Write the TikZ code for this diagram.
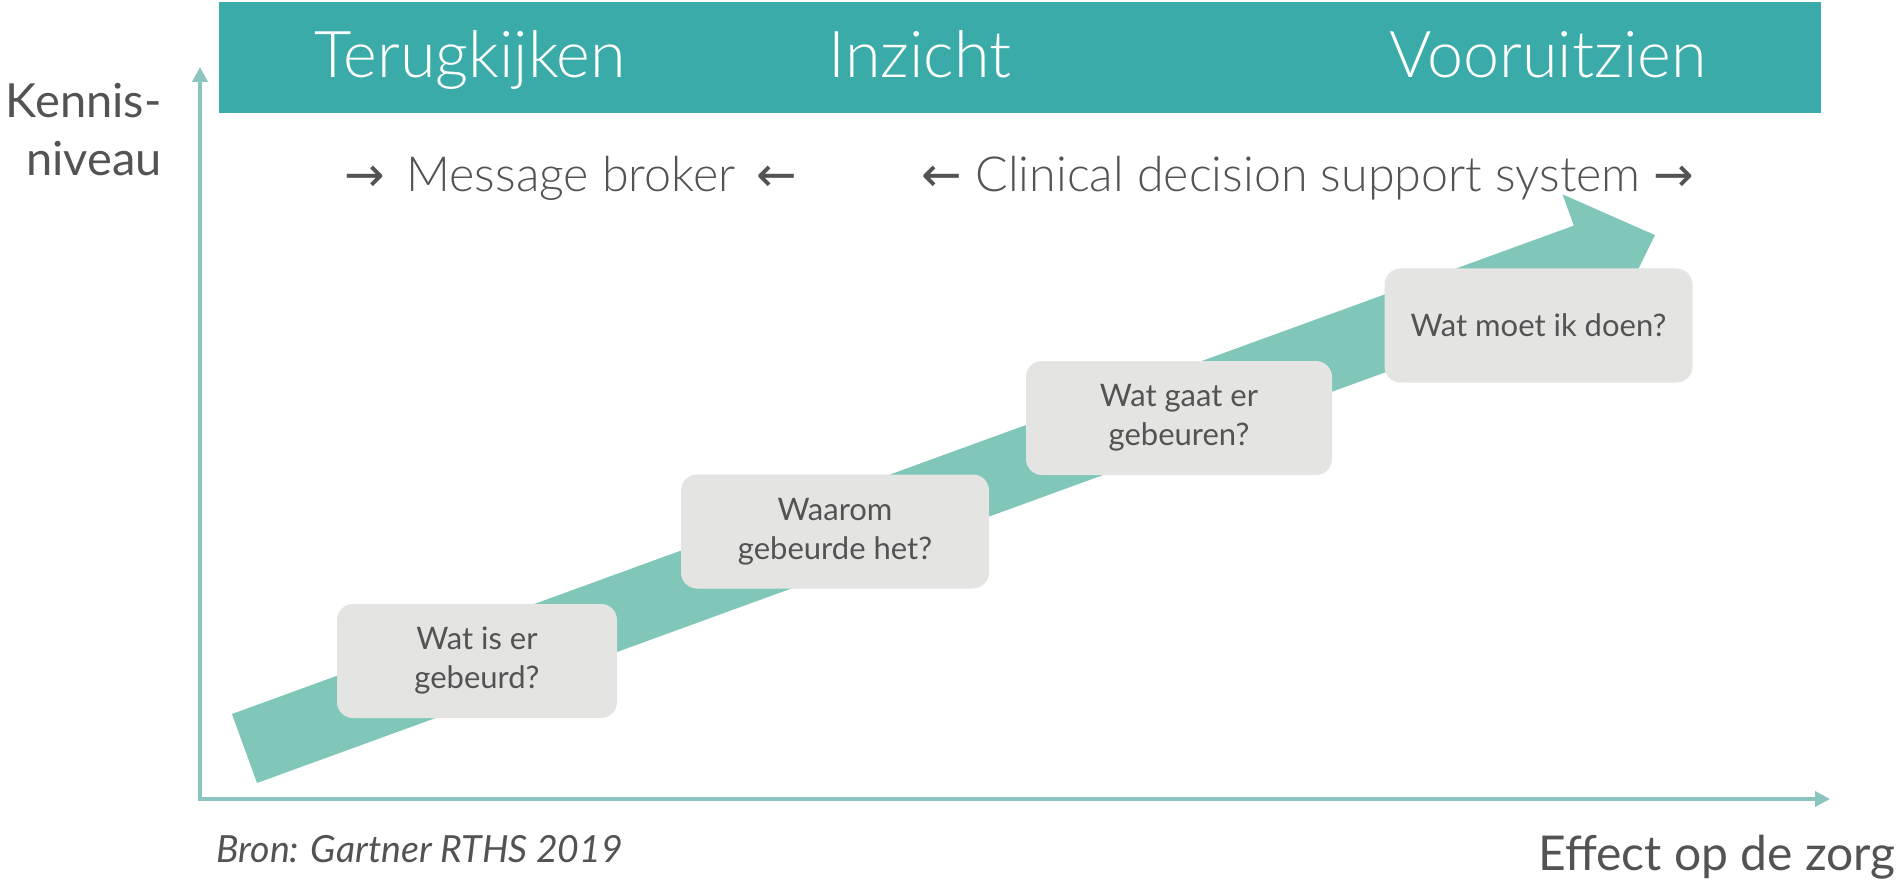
\documentclass[tikz,border=0pt]{standalone}
\usepackage{fontspec}
\setmainfont{Lato-Light.ttf}[ItalicFont=Lato-LightItalic.ttf]
\newfontfamily\regularfont{Lato}
\newfontfamily\arrowfont{DejaVu Sans}
\usetikzlibrary{arrows.meta}

\definecolor{bandteal}{HTML}{3AABA9}
\definecolor{arrowteal}{HTML}{80C7BA}
\definecolor{axisteal}{HTML}{8CC4C0}
\definecolor{boxgray}{HTML}{E4E4E2}
\definecolor{textgray}{HTML}{535353}

\tikzset{
  axis/.style={draw=axisteal, line width=1.8pt,
    arrows={Triangle[length=7.5pt,width=7.5pt]-Triangle[length=7.5pt,width=7.5pt]}},
  question/.style={fill=boxgray, rounded corners=8pt, minimum height=57pt,
    align=center, text=textgray, font=\regularfont\fontsize{15.5}{19.5}\selectfont},
  phase/.style={text=white, anchor=base, font=\fontsize{32.3}{38}\selectfont},
  system/.style={text=textgray, anchor=base, font=\fontsize{24.2}{30}\selectfont},
  axislabel/.style={text=textgray, inner sep=0pt, font=\regularfont\fontsize{23.5}{28}\selectfont}
}

\begin{document}
\begin{tikzpicture}[x=0.5pt, y=-0.5pt]
  \useasboundingbox (0,0) rectangle (1901,882);
  \fill[bandteal] (219,2) rectangle (1821,113);
  \node[phase] (terug) at (470,78) {Terugkijken};
  \node[phase] (inzicht) at (920,78) {Inzicht};
  \node[phase] (vooruit) at (1548,78) {Vooruitzien};

  \node[axislabel, anchor=base east] (kennis) at (162,118) {Kennis-};
  \node[axislabel, anchor=base east] (niveau) at (162,176) {niveau};

  \coordinate (ytop) at (200,67);
  \coordinate (xend) at (1830,799);
  \draw[axis] (ytop) |- (xend);

  \node[system] (broker) at (571,192) {{\arrowfont→}\ \,Message broker\ \,{\arrowfont←}};
  \node[system] (cdss) at (1308,192) {{\arrowfont←} Clinical decision support system {\arrowfont→}};

  \begin{scope}[shift={(244.5,748.5)}, rotate=20]
    \fill[arrowteal] (0,-36.7) -- (1428,-36.7) -- (1428,-70) -- (1501,0)
      -- (1428,70) -- (1428,36.7) -- (0,36.7) -- cycle;
  \end{scope}

  \node[question, minimum width=140pt] (q1) at (477,661) {Wat is er\\gebeurd?};
  \node[question, minimum width=154pt] (q2) at (835,531.5) {Waarom\\gebeurde het?};
  \node[question, minimum width=153pt] (q3) at (1179,418) {Wat gaat er\\gebeuren?};
  \node[question, minimum width=154pt] (q4) at (1538.5,325.5) {Wat moet ik doen?};

  \node[text=textgray, inner sep=0pt, anchor=base west, font=\regularfont\fontsize{18.7}{22}\itshape] (bron) at (216,862) {Bron: Gartner RTHS 2019};
  \node[axislabel, anchor=base, font=\regularfont\fontsize{24}{28}\selectfont] (effect) at (1717,870) {Effect op de zorg};
\end{tikzpicture}
\end{document}
